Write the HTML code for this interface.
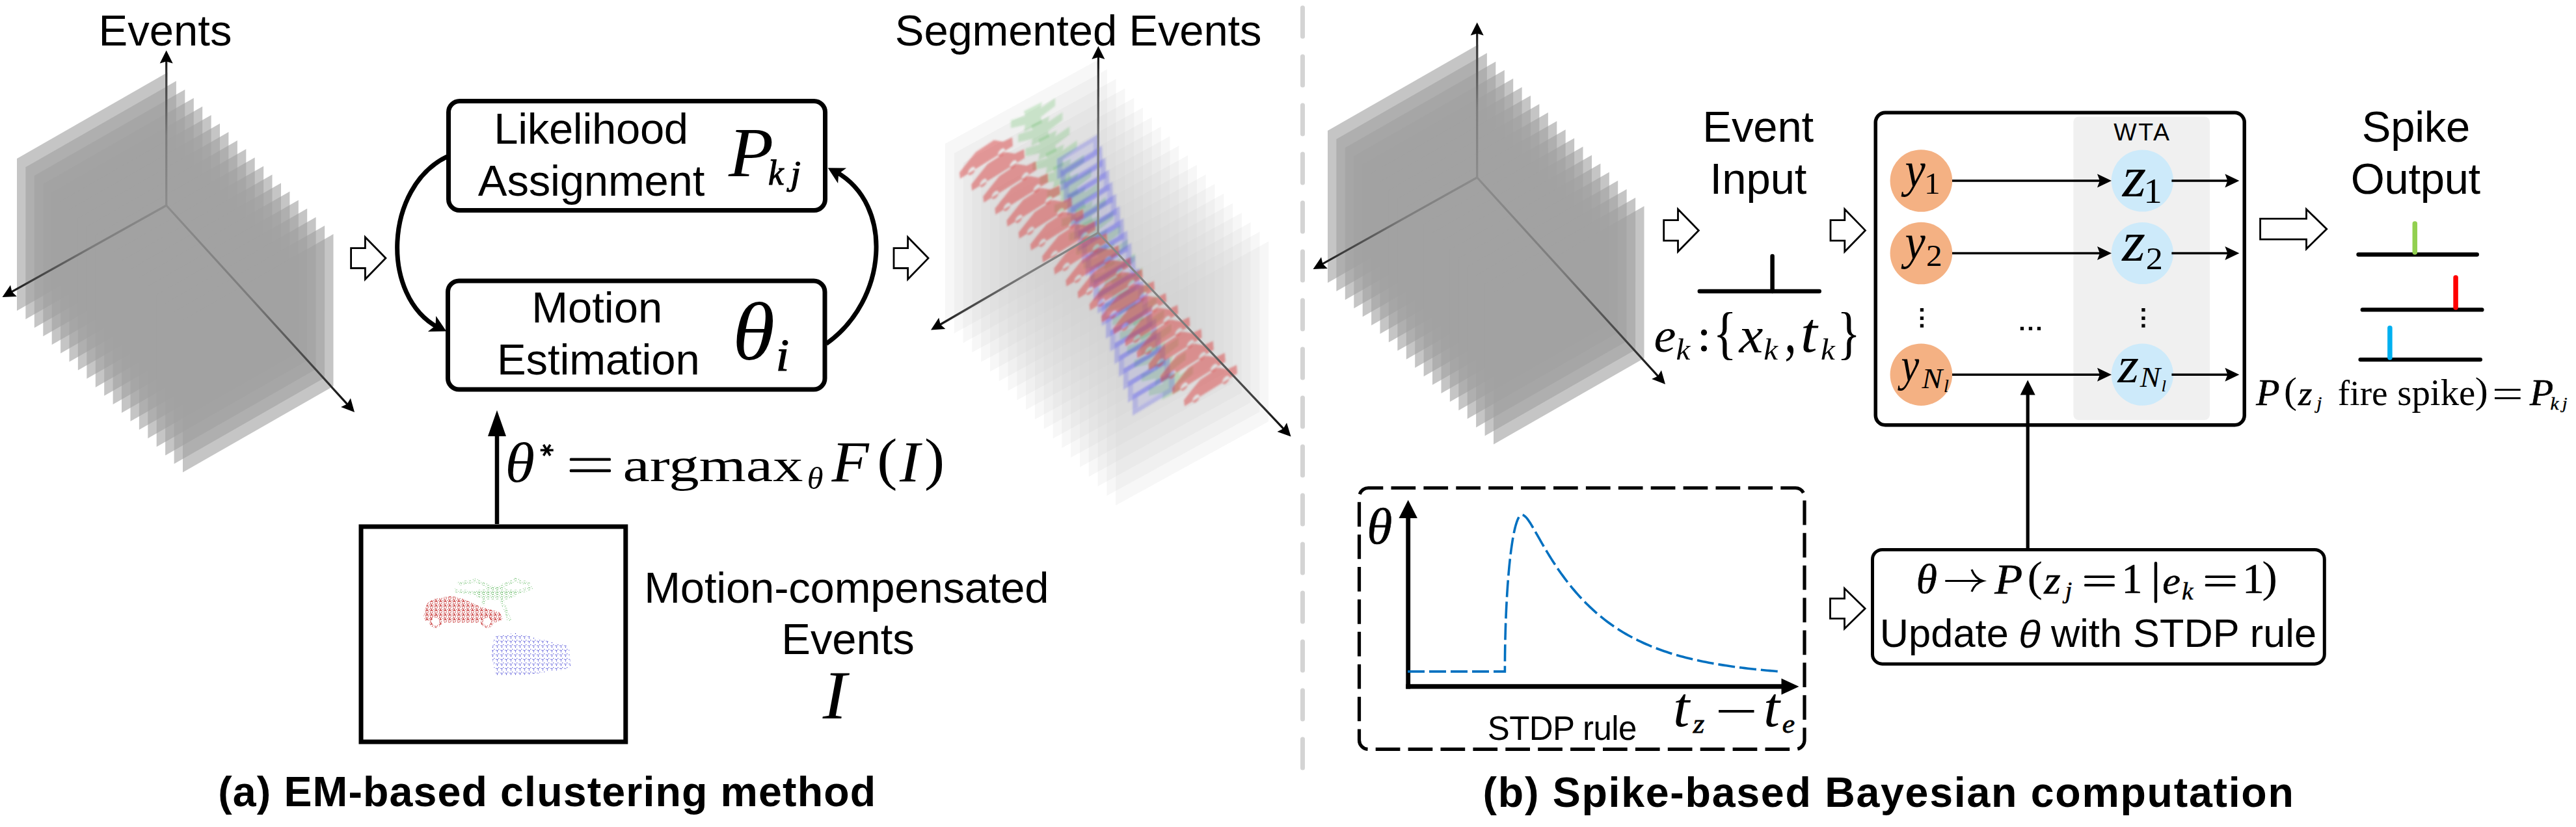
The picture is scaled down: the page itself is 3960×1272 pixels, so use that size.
<!DOCTYPE html><html><head><meta charset="utf-8"><style>html,body{margin:0;padding:0;background:#fff}svg{display:block}</style></head><body>
<svg width="3960" height="1272" viewBox="0 0 3960 1272">
<rect width="3960" height="1272" fill="#fff"/>
<defs>
<linearGradient id="ga0" gradientUnits="userSpaceOnUse" x1="255.7" y1="316.0" x2="255.7" y2="77.5"><stop offset="0" stop-color="#8c8c8c"/><stop offset="0.45" stop-color="#7c7c7c"/><stop offset="0.82" stop-color="#3c3c3c"/><stop offset="1" stop-color="#000"/></linearGradient>
<linearGradient id="ga1" gradientUnits="userSpaceOnUse" x1="255.7" y1="316.0" x2="3.5" y2="457.0"><stop offset="0" stop-color="#8c8c8c"/><stop offset="0.45" stop-color="#7c7c7c"/><stop offset="0.82" stop-color="#3c3c3c"/><stop offset="1" stop-color="#000"/></linearGradient>
<linearGradient id="ga2" gradientUnits="userSpaceOnUse" x1="255.7" y1="316.0" x2="545.0" y2="634.0"><stop offset="0" stop-color="#8c8c8c"/><stop offset="0.45" stop-color="#7c7c7c"/><stop offset="0.82" stop-color="#3c3c3c"/><stop offset="1" stop-color="#000"/></linearGradient>
</defs>
<polygon points="26.0,244.0 257.5,111.5 257.5,345.5 26.0,478.0" fill="#a2a2a2" fill-opacity="0.62"/>
<polygon points="39.4,257.1 270.9,124.6 270.9,358.6 39.4,491.1" fill="#a2a2a2" fill-opacity="0.62"/>
<polygon points="52.8,270.2 284.3,137.7 284.3,371.7 52.8,504.2" fill="#a2a2a2" fill-opacity="0.62"/>
<polygon points="66.3,283.2 297.8,150.7 297.8,384.7 66.3,517.2" fill="#a2a2a2" fill-opacity="0.62"/>
<polygon points="79.7,296.3 311.2,163.8 311.2,397.8 79.7,530.3" fill="#a2a2a2" fill-opacity="0.62"/>
<polygon points="93.1,309.4 324.6,176.9 324.6,410.9 93.1,543.4" fill="#a2a2a2" fill-opacity="0.62"/>
<polygon points="106.5,322.5 338.0,190.0 338.0,424.0 106.5,556.5" fill="#a2a2a2" fill-opacity="0.62"/>
<polygon points="119.9,335.6 351.4,203.1 351.4,437.1 119.9,569.6" fill="#a2a2a2" fill-opacity="0.62"/>
<polygon points="133.4,348.6 364.9,216.1 364.9,450.1 133.4,582.6" fill="#a2a2a2" fill-opacity="0.62"/>
<polygon points="146.8,361.7 378.3,229.2 378.3,463.2 146.8,595.7" fill="#a2a2a2" fill-opacity="0.62"/>
<polygon points="160.2,374.8 391.7,242.3 391.7,476.3 160.2,608.8" fill="#a2a2a2" fill-opacity="0.62"/>
<polygon points="173.6,387.9 405.1,255.4 405.1,489.4 173.6,621.9" fill="#a2a2a2" fill-opacity="0.62"/>
<polygon points="187.0,401.0 418.5,268.5 418.5,502.5 187.0,635.0" fill="#a2a2a2" fill-opacity="0.62"/>
<polygon points="200.5,414.0 432.0,281.5 432.0,515.5 200.5,648.0" fill="#a2a2a2" fill-opacity="0.62"/>
<polygon points="213.9,427.1 445.4,294.6 445.4,528.6 213.9,661.1" fill="#a2a2a2" fill-opacity="0.62"/>
<polygon points="227.3,440.2 458.8,307.7 458.8,541.7 227.3,674.2" fill="#a2a2a2" fill-opacity="0.62"/>
<polygon points="240.7,453.3 472.2,320.8 472.2,554.8 240.7,687.3" fill="#a2a2a2" fill-opacity="0.62"/>
<polygon points="254.1,466.4 485.6,333.9 485.6,567.9 254.1,700.4" fill="#a2a2a2" fill-opacity="0.62"/>
<polygon points="267.6,479.4 499.1,346.9 499.1,580.9 267.6,713.4" fill="#a2a2a2" fill-opacity="0.62"/>
<polygon points="281.0,492.5 512.5,360.0 512.5,594.0 281.0,726.5" fill="#a2a2a2" fill-opacity="0.62"/>
<line x1="255.7" y1="316.0" x2="255.7" y2="91.5" stroke="url(#ga0)" stroke-width="3.2"/>
<path d="M255.70 77.50L265.70 97.50L255.70 94.50L245.70 97.50Z" fill="#000"/>
<line x1="255.7" y1="316.0" x2="15.7" y2="450.2" stroke="url(#ga1)" stroke-width="3.2"/>
<path d="M3.50 457.00L16.08 438.51L18.34 448.70L25.84 455.97Z" fill="#000"/>
<line x1="255.7" y1="316.0" x2="535.6" y2="623.6" stroke="url(#ga2)" stroke-width="3.2"/>
<path d="M545.00 634.00L524.14 625.94L533.56 621.43L538.94 612.48Z" fill="#000"/>
<text x="151.50" y="70.00" font-family="Liberation Sans" font-size="67.00" textLength="204.92" lengthAdjust="spacing" fill="#000">Events</text>
<polygon points="539.60,381.70 561.40,381.70 561.40,364.66 592.94,397.10 561.40,429.54 561.40,412.50 539.60,412.50" fill="#fff" stroke="#000" stroke-width="2.80" stroke-linejoin="miter"/>
<polygon points="1374.00,381.70 1395.60,381.70 1395.60,364.66 1427.04,397.10 1395.60,429.54 1395.60,412.50 1374.00,412.50" fill="#fff" stroke="#000" stroke-width="2.80" stroke-linejoin="miter"/>
<rect x="689.5" y="155.5" width="579" height="168" rx="17" fill="#fff" stroke="#000" stroke-width="7"/>
<rect x="688.5" y="432" width="579.5" height="167" rx="17" fill="#fff" stroke="#000" stroke-width="7"/>
<text x="759.20" y="221.00" font-family="Liberation Sans" font-size="67.00" textLength="298.91" lengthAdjust="spacing" fill="#000">Likelihood</text>
<text x="734.87" y="301.00" font-family="Liberation Sans" font-size="67.00" textLength="348.42" lengthAdjust="spacing" fill="#000">Assignment</text>
<text x="817.20" y="496.20" font-family="Liberation Sans" font-size="67.00" textLength="201.05" lengthAdjust="spacing" fill="#000">Motion</text>
<text x="764.00" y="576.00" font-family="Liberation Sans" font-size="67.00" textLength="311.75" lengthAdjust="spacing" fill="#000">Estimation</text>
<text transform="translate(1119.98,270.50) scale(1.0600,1)" font-family="Liberation Serif" font-size="106.91" font-style="italic" fill="#000">P</text>
<text transform="translate(1181.07,284.40) scale(0.9489,1)" font-family="Liberation Serif" font-size="55.92" font-style="italic" fill="#000" stroke="#000" stroke-width="1.20">k</text>
<text transform="translate(1215.44,284.26) scale(1.0600,1)" font-family="Liberation Serif" font-size="52.34" font-style="italic" fill="#000" stroke="#000" stroke-width="1.20">j</text>
<text transform="translate(1125.92,553.00) scale(1.0368,1)" font-family="Liberation Serif" font-size="128.00" font-style="italic" fill="#000">θ</text>
<text transform="translate(1192.68,570.40) scale(1.0600,1)" font-family="Liberation Serif" font-size="69.17" font-style="italic" fill="#000" stroke="#000" stroke-width="1.20">i</text>
<path d="M687.30 240.90 C 590.91 287.52, 584.40 456.10, 673.67 503.85" fill="none" stroke="#000" stroke-width="7.00"/>
<path d="M686.20 509.50L657.79 509.95L669.56 500.85L670.24 485.99Z" fill="#000"/>
<path d="M1270.20 528.60 C 1364.02 462.76, 1375.37 314.91, 1285.05 264.24" fill="none" stroke="#000" stroke-width="7.00"/>
<path d="M1272.70 258.20L1301.11 258.39L1289.14 267.22L1288.13 282.06Z" fill="#000"/>
<line x1="764.00" y1="806.00" x2="764.00" y2="660.00" stroke="#000" stroke-width="6.50" />
<path d="M764.00 631.00L778.00 671.00L764.00 671.00L750.00 671.00Z" fill="#000"/>
<rect x="555" y="810" width="406.8" height="331" fill="#fff" stroke="#000" stroke-width="7"/>
<text transform="translate(776.39,741.00) scale(1.0600,1)" font-family="Liberation Serif" font-size="87.53" font-style="italic" fill="#000">θ</text>
<g stroke="#000" stroke-width="3.6" stroke-linecap="butt"><line x1="830.7" y1="692.4" x2="850.7" y2="692.4"/><line x1="835.5" y1="684" x2="845.9" y2="700.8"/><line x1="845.9" y1="684" x2="835.5" y2="700.8"/></g>
<rect x="875.8" y="704.4" width="63.2" height="4.4" rx="1.5" fill="#000"/><rect x="875.8" y="721.8" width="63.2" height="4.4" rx="1.5" fill="#000"/>
<text x="957.64" y="740.00" font-family="Liberation Serif" font-size="72.88" textLength="276.95" lengthAdjust="spacingAndGlyphs" fill="#000">argmax</text>
<text transform="translate(1240.86,752.00) scale(1.0600,1)" font-family="Liberation Serif" font-size="47.62" font-style="italic" fill="#000">θ</text>
<text transform="translate(1278.59,740.30) scale(1.0600,1)" font-family="Liberation Serif" font-size="88.43" font-style="italic" fill="#000">F</text>
<text transform="translate(1348.28,736.22) scale(1.0600,1)" font-family="Liberation Serif" font-size="88.23" fill="#000">(</text>
<text transform="translate(1382.95,740.30) scale(1.0600,1)" font-family="Liberation Serif" font-size="88.43" font-style="italic" fill="#000">I</text>
<text transform="translate(1421.08,736.22) scale(1.0600,1)" font-family="Liberation Serif" font-size="88.23" fill="#000">)</text>
<text x="990.20" y="927.00" font-family="Liberation Sans" font-size="67.00" textLength="622.41" lengthAdjust="spacing" fill="#000">Motion-compensated</text>
<text x="1201.30" y="1006.00" font-family="Liberation Sans" font-size="67.00" textLength="204.42" lengthAdjust="spacing" fill="#000">Events</text>
<text transform="translate(1264.71,1104.80) scale(1.0600,1)" font-family="Liberation Serif" font-size="104.77" font-style="italic" fill="#000">I</text>
<text x="1375.86" y="69.70" font-family="Liberation Sans" font-size="67.00" textLength="563.56" lengthAdjust="spacing" fill="#000">Segmented Events</text>
<line x1="2002.5" y1="12" x2="2002.5" y2="1187" stroke="#d4d4d4" stroke-width="7" stroke-linecap="round" stroke-dasharray="44 31"/>
<defs>
<linearGradient id="gb0" gradientUnits="userSpaceOnUse" x1="2270.7" y1="273.0" x2="2270.7" y2="34.5"><stop offset="0" stop-color="#8c8c8c"/><stop offset="0.45" stop-color="#7c7c7c"/><stop offset="0.82" stop-color="#3c3c3c"/><stop offset="1" stop-color="#000"/></linearGradient>
<linearGradient id="gb1" gradientUnits="userSpaceOnUse" x1="2270.7" y1="273.0" x2="2018.5" y2="414.0"><stop offset="0" stop-color="#8c8c8c"/><stop offset="0.45" stop-color="#7c7c7c"/><stop offset="0.82" stop-color="#3c3c3c"/><stop offset="1" stop-color="#000"/></linearGradient>
<linearGradient id="gb2" gradientUnits="userSpaceOnUse" x1="2270.7" y1="273.0" x2="2560.0" y2="591.0"><stop offset="0" stop-color="#8c8c8c"/><stop offset="0.45" stop-color="#7c7c7c"/><stop offset="0.82" stop-color="#3c3c3c"/><stop offset="1" stop-color="#000"/></linearGradient>
</defs>
<polygon points="2041.0,201.0 2272.5,68.5 2272.5,302.5 2041.0,435.0" fill="#a2a2a2" fill-opacity="0.62"/>
<polygon points="2054.4,214.1 2285.9,81.6 2285.9,315.6 2054.4,448.1" fill="#a2a2a2" fill-opacity="0.62"/>
<polygon points="2067.8,227.2 2299.3,94.7 2299.3,328.7 2067.8,461.2" fill="#a2a2a2" fill-opacity="0.62"/>
<polygon points="2081.3,240.2 2312.8,107.7 2312.8,341.7 2081.3,474.2" fill="#a2a2a2" fill-opacity="0.62"/>
<polygon points="2094.7,253.3 2326.2,120.8 2326.2,354.8 2094.7,487.3" fill="#a2a2a2" fill-opacity="0.62"/>
<polygon points="2108.1,266.4 2339.6,133.9 2339.6,367.9 2108.1,500.4" fill="#a2a2a2" fill-opacity="0.62"/>
<polygon points="2121.5,279.5 2353.0,147.0 2353.0,381.0 2121.5,513.5" fill="#a2a2a2" fill-opacity="0.62"/>
<polygon points="2134.9,292.6 2366.4,160.1 2366.4,394.1 2134.9,526.6" fill="#a2a2a2" fill-opacity="0.62"/>
<polygon points="2148.4,305.6 2379.9,173.1 2379.9,407.1 2148.4,539.6" fill="#a2a2a2" fill-opacity="0.62"/>
<polygon points="2161.8,318.7 2393.3,186.2 2393.3,420.2 2161.8,552.7" fill="#a2a2a2" fill-opacity="0.62"/>
<polygon points="2175.2,331.8 2406.7,199.3 2406.7,433.3 2175.2,565.8" fill="#a2a2a2" fill-opacity="0.62"/>
<polygon points="2188.6,344.9 2420.1,212.4 2420.1,446.4 2188.6,578.9" fill="#a2a2a2" fill-opacity="0.62"/>
<polygon points="2202.0,358.0 2433.5,225.5 2433.5,459.5 2202.0,592.0" fill="#a2a2a2" fill-opacity="0.62"/>
<polygon points="2215.5,371.0 2447.0,238.5 2447.0,472.5 2215.5,605.0" fill="#a2a2a2" fill-opacity="0.62"/>
<polygon points="2228.9,384.1 2460.4,251.6 2460.4,485.6 2228.9,618.1" fill="#a2a2a2" fill-opacity="0.62"/>
<polygon points="2242.3,397.2 2473.8,264.7 2473.8,498.7 2242.3,631.2" fill="#a2a2a2" fill-opacity="0.62"/>
<polygon points="2255.7,410.3 2487.2,277.8 2487.2,511.8 2255.7,644.3" fill="#a2a2a2" fill-opacity="0.62"/>
<polygon points="2269.1,423.4 2500.6,290.9 2500.6,524.9 2269.1,657.4" fill="#a2a2a2" fill-opacity="0.62"/>
<polygon points="2282.6,436.4 2514.1,303.9 2514.1,537.9 2282.6,670.4" fill="#a2a2a2" fill-opacity="0.62"/>
<polygon points="2296.0,449.5 2527.5,317.0 2527.5,551.0 2296.0,683.5" fill="#a2a2a2" fill-opacity="0.62"/>
<line x1="2270.7" y1="273.0" x2="2270.7" y2="48.5" stroke="url(#gb0)" stroke-width="3.2"/>
<path d="M2270.70 34.50L2280.70 54.50L2270.70 51.50L2260.70 54.50Z" fill="#000"/>
<line x1="2270.7" y1="273.0" x2="2030.7" y2="407.2" stroke="url(#gb1)" stroke-width="3.2"/>
<path d="M2018.50 414.00L2031.08 395.51L2033.34 405.70L2040.84 412.97Z" fill="#000"/>
<line x1="2270.7" y1="273.0" x2="2550.6" y2="580.6" stroke="url(#gb2)" stroke-width="3.2"/>
<path d="M2560.00 591.00L2539.14 582.94L2548.56 578.43L2553.94 569.48Z" fill="#000"/>
<defs><pattern id="pr" width="7" height="7" patternUnits="userSpaceOnUse"><circle cx="4.4" cy="5.2" r="0.75" fill="#c83c3c"/><circle cx="5.6" cy="6.6" r="0.75" fill="#c83c3c"/><circle cx="5.2" cy="6.5" r="0.75" fill="#c83c3c"/><circle cx="0.2" cy="3.3" r="0.75" fill="#c83c3c"/><circle cx="6.6" cy="4.5" r="0.75" fill="#c83c3c"/><circle cx="6.3" cy="0.8" r="0.75" fill="#c83c3c"/><circle cx="3.3" cy="1.7" r="0.75" fill="#c83c3c"/><circle cx="3.8" cy="4.0" r="0.75" fill="#c83c3c"/><circle cx="0.1" cy="1.5" r="0.75" fill="#c83c3c"/><circle cx="2.0" cy="6.4" r="0.75" fill="#c83c3c"/><circle cx="5.4" cy="1.1" r="0.75" fill="#c83c3c"/><circle cx="5.6" cy="1.0" r="0.75" fill="#c83c3c"/><circle cx="4.3" cy="0.9" r="0.75" fill="#c83c3c"/></pattern><pattern id="pb" width="7" height="7" patternUnits="userSpaceOnUse"><circle cx="0.0" cy="6.1" r="0.65" fill="#3030d0"/><circle cx="1.5" cy="1.5" r="0.65" fill="#3030d0"/><circle cx="6.9" cy="6.1" r="0.65" fill="#3030d0"/><circle cx="2.0" cy="6.7" r="0.65" fill="#3030d0"/><circle cx="3.8" cy="4.7" r="0.65" fill="#3030d0"/><circle cx="1.4" cy="6.6" r="0.65" fill="#3030d0"/></pattern><pattern id="pg" width="7" height="7" patternUnits="userSpaceOnUse"><circle cx="4.8" cy="6.8" r="0.65" fill="#50b050"/><circle cx="6.3" cy="2.1" r="0.65" fill="#50b050"/><circle cx="2.5" cy="1.2" r="0.65" fill="#50b050"/><circle cx="1.0" cy="0.5" r="0.65" fill="#50b050"/><circle cx="2.1" cy="4.2" r="0.65" fill="#50b050"/><circle cx="0.0" cy="4.7" r="0.65" fill="#50b050"/></pattern></defs>
<g fill="none" stroke="url(#pg)" stroke-width="6">
<polyline points="703.1,898.3 731.4,892.8 761.8,905.9 792.3,891.8 814.1,898.3"/>
<polyline points="698.7,908.1 722.7,911.3 761.8,913.5 801.0,909.2 818.4,903.7"/>
<polyline points="744.4,920.0 742.3,930.9"/>
<polyline points="770.5,920.0 783.6,955.9"/>
</g>
<ellipse cx="761.8" cy="913.5" rx="32.6" ry="9.8" fill="url(#pg)"/>
<path d="M650.9,944.0 L657.4,926.6 L668.3,921.1 L694.4,916.8 L711.8,921.1 L737.9,933.1 L768.4,941.8 L772.7,952.7 L761.8,958.1 L757.5,954.9 L748.8,948.3 L737.9,952.7 L735.7,958.1 L683.5,958.1 L679.2,950.5 L668.3,948.3 L659.6,954.9 L653.1,954.9 Z" fill="url(#pr)"/>
<circle cx="669.4" cy="955.9" r="8" fill="none" stroke="url(#pr)" stroke-width="4"/>
<circle cx="748.8" cy="955.9" r="8" fill="none" stroke="url(#pr)" stroke-width="4"/>
<path d="M759.7,978.8 L792.3,973.4 L875.0,994.0 L877.2,1026.7 L864.1,1029.9 L814.1,1037.5 L761.8,1039.7 L755.3,1004.9 Z" fill="url(#pb)"/>
<defs>
<linearGradient id="gs0" gradientUnits="userSpaceOnUse" x1="1688.0" y1="358.0" x2="1688.4" y2="71.0"><stop offset="0" stop-color="#8a8a8a"/><stop offset="0.45" stop-color="#7c7c7c"/><stop offset="0.82" stop-color="#3c3c3c"/><stop offset="1" stop-color="#000"/></linearGradient>
<linearGradient id="gs1" gradientUnits="userSpaceOnUse" x1="1688.0" y1="358.0" x2="1431.0" y2="507.5"><stop offset="0" stop-color="#8a8a8a"/><stop offset="0.45" stop-color="#7c7c7c"/><stop offset="0.82" stop-color="#3c3c3c"/><stop offset="1" stop-color="#000"/></linearGradient>
<linearGradient id="gs2" gradientUnits="userSpaceOnUse" x1="1688.0" y1="358.0" x2="1984.5" y2="671.6"><stop offset="0" stop-color="#8a8a8a"/><stop offset="0.45" stop-color="#7c7c7c"/><stop offset="0.82" stop-color="#3c3c3c"/><stop offset="1" stop-color="#000"/></linearGradient>
</defs>
<polygon points="1453.0,221.0 1688.0,92.0 1688.0,369.0 1453.0,498.0" fill="#d2d2d2" fill-opacity="0.17"/>
<polygon points="1466.8,235.7 1701.8,106.7 1701.8,383.7 1466.8,512.7" fill="#d2d2d2" fill-opacity="0.17"/>
<polygon points="1480.6,250.4 1715.6,121.4 1715.6,398.4 1480.6,527.4" fill="#d2d2d2" fill-opacity="0.17"/>
<polygon points="1494.4,265.1 1729.4,136.1 1729.4,413.1 1494.4,542.1" fill="#d2d2d2" fill-opacity="0.17"/>
<polygon points="1508.2,279.8 1743.2,150.8 1743.2,427.8 1508.2,556.8" fill="#d2d2d2" fill-opacity="0.17"/>
<polygon points="1522.0,294.5 1757.0,165.5 1757.0,442.5 1522.0,571.5" fill="#d2d2d2" fill-opacity="0.17"/>
<polygon points="1535.8,309.2 1770.8,180.2 1770.8,457.2 1535.8,586.2" fill="#d2d2d2" fill-opacity="0.17"/>
<polygon points="1549.6,323.9 1784.6,194.9 1784.6,471.9 1549.6,600.9" fill="#d2d2d2" fill-opacity="0.17"/>
<polygon points="1563.4,338.6 1798.4,209.6 1798.4,486.6 1563.4,615.6" fill="#d2d2d2" fill-opacity="0.17"/>
<polygon points="1577.2,353.3 1812.2,224.3 1812.2,501.3 1577.2,630.3" fill="#d2d2d2" fill-opacity="0.17"/>
<polygon points="1591.0,368.0 1826.0,239.0 1826.0,516.0 1591.0,645.0" fill="#d2d2d2" fill-opacity="0.17"/>
<polygon points="1604.8,382.7 1839.8,253.7 1839.8,530.7 1604.8,659.7" fill="#d2d2d2" fill-opacity="0.17"/>
<polygon points="1618.6,397.4 1853.6,268.4 1853.6,545.4 1618.6,674.4" fill="#d2d2d2" fill-opacity="0.17"/>
<polygon points="1632.4,412.1 1867.4,283.1 1867.4,560.1 1632.4,689.1" fill="#d2d2d2" fill-opacity="0.17"/>
<polygon points="1646.2,426.8 1881.2,297.8 1881.2,574.8 1646.2,703.8" fill="#d2d2d2" fill-opacity="0.17"/>
<polygon points="1660.0,441.5 1895.0,312.5 1895.0,589.5 1660.0,718.5" fill="#d2d2d2" fill-opacity="0.17"/>
<polygon points="1673.8,456.2 1908.8,327.2 1908.8,604.2 1673.8,733.2" fill="#d2d2d2" fill-opacity="0.17"/>
<polygon points="1687.6,470.9 1922.6,341.9 1922.6,618.9 1687.6,747.9" fill="#d2d2d2" fill-opacity="0.17"/>
<polygon points="1701.4,485.6 1936.4,356.6 1936.4,633.6 1701.4,762.6" fill="#d2d2d2" fill-opacity="0.17"/>
<polygon points="1715.2,500.3 1950.2,371.3 1950.2,648.3 1715.2,777.3" fill="#d2d2d2" fill-opacity="0.17"/>
<filter id="bl" x="-5%" y="-5%" width="110%" height="110%"><feGaussianBlur stdDeviation="1.6"/></filter><g filter="url(#bl)">
<path d="M-34,-12 L-12,-8 L-14,-16 L14,-16 L12,-8 L34,-12 L34,0 L12,6 L14,16 L-14,16 L-12,6 L-34,0 Z" fill-rule="evenodd" transform="translate(1588.0,180.0) matrix(1.00,-0.500,0,1.00,0,0)" fill="#40b040" fill-opacity="0.22"/>
<path d="M-34,-12 L-12,-8 L-14,-16 L14,-16 L12,-8 L34,-12 L34,0 L12,6 L14,16 L-14,16 L-12,6 L-34,0 Z" fill-rule="evenodd" transform="translate(1599.2,201.7) matrix(1.00,-0.500,0,1.00,0,0)" fill="#40b040" fill-opacity="0.22"/>
<path d="M-34,-12 L-12,-8 L-14,-16 L14,-16 L12,-8 L34,-12 L34,0 L12,6 L14,16 L-14,16 L-12,6 L-34,0 Z" fill-rule="evenodd" transform="translate(1610.3,223.4) matrix(1.00,-0.500,0,1.00,0,0)" fill="#40b040" fill-opacity="0.22"/>
<path d="M-34,-12 L-12,-8 L-14,-16 L14,-16 L12,-8 L34,-12 L34,0 L12,6 L14,16 L-14,16 L-12,6 L-34,0 Z" fill-rule="evenodd" transform="translate(1621.5,245.1) matrix(1.00,-0.500,0,1.00,0,0)" fill="#40b040" fill-opacity="0.22"/>
<path d="M-34,-12 L-12,-8 L-14,-16 L14,-16 L12,-8 L34,-12 L34,0 L12,6 L14,16 L-14,16 L-12,6 L-34,0 Z" fill-rule="evenodd" transform="translate(1632.6,266.7) matrix(1.00,-0.500,0,1.00,0,0)" fill="#40b040" fill-opacity="0.22"/>
<path d="M-34,-12 L-12,-8 L-14,-16 L14,-16 L12,-8 L34,-12 L34,0 L12,6 L14,16 L-14,16 L-12,6 L-34,0 Z" fill-rule="evenodd" transform="translate(1643.8,288.4) matrix(1.00,-0.500,0,1.00,0,0)" fill="#40b040" fill-opacity="0.22"/>
<path d="M-34,-12 L-12,-8 L-14,-16 L14,-16 L12,-8 L34,-12 L34,0 L12,6 L14,16 L-14,16 L-12,6 L-34,0 Z" fill-rule="evenodd" transform="translate(1654.9,310.1) matrix(1.00,-0.500,0,1.00,0,0)" fill="#40b040" fill-opacity="0.22"/>
<path d="M-34,-12 L-12,-8 L-14,-16 L14,-16 L12,-8 L34,-12 L34,0 L12,6 L14,16 L-14,16 L-12,6 L-34,0 Z" fill-rule="evenodd" transform="translate(1666.1,331.8) matrix(1.00,-0.500,0,1.00,0,0)" fill="#40b040" fill-opacity="0.22"/>
<path d="M-34,-12 L-12,-8 L-14,-16 L14,-16 L12,-8 L34,-12 L34,0 L12,6 L14,16 L-14,16 L-12,6 L-34,0 Z" fill-rule="evenodd" transform="translate(1677.3,353.5) matrix(1.00,-0.500,0,1.00,0,0)" fill="#40b040" fill-opacity="0.22"/>
<path d="M-34,-12 L-12,-8 L-14,-16 L14,-16 L12,-8 L34,-12 L34,0 L12,6 L14,16 L-14,16 L-12,6 L-34,0 Z" fill-rule="evenodd" transform="translate(1688.4,375.2) matrix(1.00,-0.500,0,1.00,0,0)" fill="#40b040" fill-opacity="0.22"/>
<path d="M-34,-12 L-12,-8 L-14,-16 L14,-16 L12,-8 L34,-12 L34,0 L12,6 L14,16 L-14,16 L-12,6 L-34,0 Z" fill-rule="evenodd" transform="translate(1699.6,396.8) matrix(1.00,-0.500,0,1.00,0,0)" fill="#40b040" fill-opacity="0.22"/>
<path d="M-34,-12 L-12,-8 L-14,-16 L14,-16 L12,-8 L34,-12 L34,0 L12,6 L14,16 L-14,16 L-12,6 L-34,0 Z" fill-rule="evenodd" transform="translate(1710.7,418.5) matrix(1.00,-0.500,0,1.00,0,0)" fill="#40b040" fill-opacity="0.22"/>
<path d="M-34,-12 L-12,-8 L-14,-16 L14,-16 L12,-8 L34,-12 L34,0 L12,6 L14,16 L-14,16 L-12,6 L-34,0 Z" fill-rule="evenodd" transform="translate(1721.9,440.2) matrix(1.00,-0.500,0,1.00,0,0)" fill="#40b040" fill-opacity="0.22"/>
<path d="M-34,-12 L-12,-8 L-14,-16 L14,-16 L12,-8 L34,-12 L34,0 L12,6 L14,16 L-14,16 L-12,6 L-34,0 Z" fill-rule="evenodd" transform="translate(1733.1,461.9) matrix(1.00,-0.500,0,1.00,0,0)" fill="#40b040" fill-opacity="0.22"/>
<path d="M-34,-12 L-12,-8 L-14,-16 L14,-16 L12,-8 L34,-12 L34,0 L12,6 L14,16 L-14,16 L-12,6 L-34,0 Z" fill-rule="evenodd" transform="translate(1744.2,483.6) matrix(1.00,-0.500,0,1.00,0,0)" fill="#40b040" fill-opacity="0.22"/>
<path d="M-34,-12 L-12,-8 L-14,-16 L14,-16 L12,-8 L34,-12 L34,0 L12,6 L14,16 L-14,16 L-12,6 L-34,0 Z" fill-rule="evenodd" transform="translate(1755.4,505.3) matrix(1.00,-0.500,0,1.00,0,0)" fill="#40b040" fill-opacity="0.22"/>
<path d="M-34,-12 L-12,-8 L-14,-16 L14,-16 L12,-8 L34,-12 L34,0 L12,6 L14,16 L-14,16 L-12,6 L-34,0 Z" fill-rule="evenodd" transform="translate(1766.5,526.9) matrix(1.00,-0.500,0,1.00,0,0)" fill="#40b040" fill-opacity="0.22"/>
<path d="M-34,-12 L-12,-8 L-14,-16 L14,-16 L12,-8 L34,-12 L34,0 L12,6 L14,16 L-14,16 L-12,6 L-34,0 Z" fill-rule="evenodd" transform="translate(1777.7,548.6) matrix(1.00,-0.500,0,1.00,0,0)" fill="#40b040" fill-opacity="0.22"/>
<path d="M-34,-12 L-12,-8 L-14,-16 L14,-16 L12,-8 L34,-12 L34,0 L12,6 L14,16 L-14,16 L-12,6 L-34,0 Z" fill-rule="evenodd" transform="translate(1788.8,570.3) matrix(1.00,-0.500,0,1.00,0,0)" fill="#40b040" fill-opacity="0.22"/>
<path d="M-34,-12 L-12,-8 L-14,-16 L14,-16 L12,-8 L34,-12 L34,0 L12,6 L14,16 L-14,16 L-12,6 L-34,0 Z" fill-rule="evenodd" transform="translate(1800.0,592.0) matrix(1.00,-0.500,0,1.00,0,0)" fill="#40b040" fill-opacity="0.22"/>
<path d="M-32,-17 L32,-17 L33,15 L-32,15 Z M-24,-9 L24,-9 L24,7 L-24,7 Z" fill-rule="evenodd" transform="translate(1657.0,242.0) matrix(1.00,-0.600,0,1.00,0,0)" fill="#3c3cf0" fill-opacity="0.17"/>
<path d="M-32,-17 L32,-17 L33,15 L-32,15 Z M-24,-9 L24,-9 L24,7 L-24,7 Z" fill-rule="evenodd" transform="translate(1662.1,260.3) matrix(1.00,-0.600,0,1.00,0,0)" fill="#3c3cf0" fill-opacity="0.17"/>
<path d="M-32,-17 L32,-17 L33,15 L-32,15 Z M-24,-9 L24,-9 L24,7 L-24,7 Z" fill-rule="evenodd" transform="translate(1667.3,278.6) matrix(1.00,-0.600,0,1.00,0,0)" fill="#3c3cf0" fill-opacity="0.17"/>
<path d="M-32,-17 L32,-17 L33,15 L-32,15 Z M-24,-9 L24,-9 L24,7 L-24,7 Z" fill-rule="evenodd" transform="translate(1672.7,297.1) matrix(1.00,-0.600,0,1.00,0,0)" fill="#3c3cf0" fill-opacity="0.17"/>
<path d="M-32,-17 L32,-17 L33,15 L-32,15 Z M-24,-9 L24,-9 L24,7 L-24,7 Z" fill-rule="evenodd" transform="translate(1678.1,315.6) matrix(1.00,-0.600,0,1.00,0,0)" fill="#3c3cf0" fill-opacity="0.17"/>
<path d="M-32,-17 L32,-17 L33,15 L-32,15 Z M-24,-9 L24,-9 L24,7 L-24,7 Z" fill-rule="evenodd" transform="translate(1683.6,334.2) matrix(1.00,-0.600,0,1.00,0,0)" fill="#3c3cf0" fill-opacity="0.17"/>
<path d="M-32,-17 L32,-17 L33,15 L-32,15 Z M-24,-9 L24,-9 L24,7 L-24,7 Z" fill-rule="evenodd" transform="translate(1689.3,353.0) matrix(1.00,-0.600,0,1.00,0,0)" fill="#3c3cf0" fill-opacity="0.17"/>
<path d="M-32,-17 L32,-17 L33,15 L-32,15 Z M-24,-9 L24,-9 L24,7 L-24,7 Z" fill-rule="evenodd" transform="translate(1695.1,371.8) matrix(1.00,-0.600,0,1.00,0,0)" fill="#3c3cf0" fill-opacity="0.17"/>
<path d="M-32,-17 L32,-17 L33,15 L-32,15 Z M-24,-9 L24,-9 L24,7 L-24,7 Z" fill-rule="evenodd" transform="translate(1701.0,390.7) matrix(1.00,-0.600,0,1.00,0,0)" fill="#3c3cf0" fill-opacity="0.17"/>
<path d="M-32,-17 L32,-17 L33,15 L-32,15 Z M-24,-9 L24,-9 L24,7 L-24,7 Z" fill-rule="evenodd" transform="translate(1707.0,409.7) matrix(1.00,-0.600,0,1.00,0,0)" fill="#3c3cf0" fill-opacity="0.17"/>
<path d="M-32,-17 L32,-17 L33,15 L-32,15 Z M-24,-9 L24,-9 L24,7 L-24,7 Z" fill-rule="evenodd" transform="translate(1713.1,428.8) matrix(1.00,-0.600,0,1.00,0,0)" fill="#3c3cf0" fill-opacity="0.17"/>
<path d="M-32,-17 L32,-17 L33,15 L-32,15 Z M-24,-9 L24,-9 L24,7 L-24,7 Z" fill-rule="evenodd" transform="translate(1719.3,448.0) matrix(1.00,-0.600,0,1.00,0,0)" fill="#3c3cf0" fill-opacity="0.17"/>
<path d="M-32,-17 L32,-17 L33,15 L-32,15 Z M-24,-9 L24,-9 L24,7 L-24,7 Z" fill-rule="evenodd" transform="translate(1725.6,467.3) matrix(1.00,-0.600,0,1.00,0,0)" fill="#3c3cf0" fill-opacity="0.17"/>
<path d="M-32,-17 L32,-17 L33,15 L-32,15 Z M-24,-9 L24,-9 L24,7 L-24,7 Z" fill-rule="evenodd" transform="translate(1732.0,486.7) matrix(1.00,-0.600,0,1.00,0,0)" fill="#3c3cf0" fill-opacity="0.17"/>
<path d="M-32,-17 L32,-17 L33,15 L-32,15 Z M-24,-9 L24,-9 L24,7 L-24,7 Z" fill-rule="evenodd" transform="translate(1738.6,506.2) matrix(1.00,-0.600,0,1.00,0,0)" fill="#3c3cf0" fill-opacity="0.17"/>
<path d="M-32,-17 L32,-17 L33,15 L-32,15 Z M-24,-9 L24,-9 L24,7 L-24,7 Z" fill-rule="evenodd" transform="translate(1745.3,525.8) matrix(1.00,-0.600,0,1.00,0,0)" fill="#3c3cf0" fill-opacity="0.17"/>
<path d="M-32,-17 L32,-17 L33,15 L-32,15 Z M-24,-9 L24,-9 L24,7 L-24,7 Z" fill-rule="evenodd" transform="translate(1752.0,545.4) matrix(1.00,-0.600,0,1.00,0,0)" fill="#3c3cf0" fill-opacity="0.17"/>
<path d="M-32,-17 L32,-17 L33,15 L-32,15 Z M-24,-9 L24,-9 L24,7 L-24,7 Z" fill-rule="evenodd" transform="translate(1758.9,565.2) matrix(1.00,-0.600,0,1.00,0,0)" fill="#3c3cf0" fill-opacity="0.17"/>
<path d="M-32,-17 L32,-17 L33,15 L-32,15 Z M-24,-9 L24,-9 L24,7 L-24,7 Z" fill-rule="evenodd" transform="translate(1765.9,585.0) matrix(1.00,-0.600,0,1.00,0,0)" fill="#3c3cf0" fill-opacity="0.17"/>
<path d="M-32,-17 L32,-17 L33,15 L-32,15 Z M-24,-9 L24,-9 L24,7 L-24,7 Z" fill-rule="evenodd" transform="translate(1773.0,605.0) matrix(1.00,-0.600,0,1.00,0,0)" fill="#3c3cf0" fill-opacity="0.17"/>
<path d="M-32,-17 L32,-17 L33,15 L-32,15 Z" fill-rule="evenodd" transform="translate(1657.0,242.0) matrix(1.00,-0.600,0,1.00,0,0)" fill="#5050f0" fill-opacity="0.11"/>
<path d="M-32,-17 L32,-17 L33,15 L-32,15 Z" fill-rule="evenodd" transform="translate(1662.1,260.3) matrix(1.00,-0.600,0,1.00,0,0)" fill="#5050f0" fill-opacity="0.11"/>
<path d="M-32,-17 L32,-17 L33,15 L-32,15 Z" fill-rule="evenodd" transform="translate(1667.3,278.6) matrix(1.00,-0.600,0,1.00,0,0)" fill="#5050f0" fill-opacity="0.11"/>
<path d="M-32,-17 L32,-17 L33,15 L-32,15 Z" fill-rule="evenodd" transform="translate(1672.7,297.1) matrix(1.00,-0.600,0,1.00,0,0)" fill="#5050f0" fill-opacity="0.11"/>
<path d="M-32,-17 L32,-17 L33,15 L-32,15 Z" fill-rule="evenodd" transform="translate(1678.1,315.6) matrix(1.00,-0.600,0,1.00,0,0)" fill="#5050f0" fill-opacity="0.11"/>
<path d="M-32,-17 L32,-17 L33,15 L-32,15 Z" fill-rule="evenodd" transform="translate(1683.6,334.2) matrix(1.00,-0.600,0,1.00,0,0)" fill="#5050f0" fill-opacity="0.11"/>
<path d="M-32,-17 L32,-17 L33,15 L-32,15 Z" fill-rule="evenodd" transform="translate(1689.3,353.0) matrix(1.00,-0.600,0,1.00,0,0)" fill="#5050f0" fill-opacity="0.11"/>
<path d="M-32,-17 L32,-17 L33,15 L-32,15 Z" fill-rule="evenodd" transform="translate(1695.1,371.8) matrix(1.00,-0.600,0,1.00,0,0)" fill="#5050f0" fill-opacity="0.11"/>
<path d="M-32,-17 L32,-17 L33,15 L-32,15 Z" fill-rule="evenodd" transform="translate(1701.0,390.7) matrix(1.00,-0.600,0,1.00,0,0)" fill="#5050f0" fill-opacity="0.11"/>
<path d="M-32,-17 L32,-17 L33,15 L-32,15 Z" fill-rule="evenodd" transform="translate(1707.0,409.7) matrix(1.00,-0.600,0,1.00,0,0)" fill="#5050f0" fill-opacity="0.11"/>
<path d="M-32,-17 L32,-17 L33,15 L-32,15 Z" fill-rule="evenodd" transform="translate(1713.1,428.8) matrix(1.00,-0.600,0,1.00,0,0)" fill="#5050f0" fill-opacity="0.11"/>
<path d="M-32,-17 L32,-17 L33,15 L-32,15 Z" fill-rule="evenodd" transform="translate(1719.3,448.0) matrix(1.00,-0.600,0,1.00,0,0)" fill="#5050f0" fill-opacity="0.11"/>
<path d="M-32,-17 L32,-17 L33,15 L-32,15 Z" fill-rule="evenodd" transform="translate(1725.6,467.3) matrix(1.00,-0.600,0,1.00,0,0)" fill="#5050f0" fill-opacity="0.11"/>
<path d="M-32,-17 L32,-17 L33,15 L-32,15 Z" fill-rule="evenodd" transform="translate(1732.0,486.7) matrix(1.00,-0.600,0,1.00,0,0)" fill="#5050f0" fill-opacity="0.11"/>
<path d="M-32,-17 L32,-17 L33,15 L-32,15 Z" fill-rule="evenodd" transform="translate(1738.6,506.2) matrix(1.00,-0.600,0,1.00,0,0)" fill="#5050f0" fill-opacity="0.11"/>
<path d="M-32,-17 L32,-17 L33,15 L-32,15 Z" fill-rule="evenodd" transform="translate(1745.3,525.8) matrix(1.00,-0.600,0,1.00,0,0)" fill="#5050f0" fill-opacity="0.11"/>
<path d="M-32,-17 L32,-17 L33,15 L-32,15 Z" fill-rule="evenodd" transform="translate(1752.0,545.4) matrix(1.00,-0.600,0,1.00,0,0)" fill="#5050f0" fill-opacity="0.11"/>
<path d="M-32,-17 L32,-17 L33,15 L-32,15 Z" fill-rule="evenodd" transform="translate(1758.9,565.2) matrix(1.00,-0.600,0,1.00,0,0)" fill="#5050f0" fill-opacity="0.11"/>
<path d="M-32,-17 L32,-17 L33,15 L-32,15 Z" fill-rule="evenodd" transform="translate(1765.9,585.0) matrix(1.00,-0.600,0,1.00,0,0)" fill="#5050f0" fill-opacity="0.11"/>
<path d="M-32,-17 L32,-17 L33,15 L-32,15 Z" fill-rule="evenodd" transform="translate(1773.0,605.0) matrix(1.00,-0.600,0,1.00,0,0)" fill="#5050f0" fill-opacity="0.11"/>
<path d="M-40,10 L-41,0 L-32,-6 L-16,-16 L12,-17 L26,-6 L40,-4 L41,10 Z M-17,9 a5.5,5.5 0 1,0 -11,0 a5.5,5.5 0 1,0 11,0 Z M29,9 a5.5,5.5 0 1,0 -11,0 a5.5,5.5 0 1,0 11,0 Z" fill-rule="evenodd" transform="translate(1516.0,240.0) matrix(1.00,-0.620,0,1.00,0,0)" fill="#d84848" fill-opacity="0.52"/>
<path d="M-40,10 L-41,0 L-32,-6 L-16,-16 L12,-17 L26,-6 L40,-4 L41,10 Z M-17,9 a5.5,5.5 0 1,0 -11,0 a5.5,5.5 0 1,0 11,0 Z M29,9 a5.5,5.5 0 1,0 -11,0 a5.5,5.5 0 1,0 11,0 Z" fill-rule="evenodd" transform="translate(1534.2,258.4) matrix(1.00,-0.620,0,1.00,0,0)" fill="#d84848" fill-opacity="0.52"/>
<path d="M-40,10 L-41,0 L-32,-6 L-16,-16 L12,-17 L26,-6 L40,-4 L41,10 Z M-17,9 a5.5,5.5 0 1,0 -11,0 a5.5,5.5 0 1,0 11,0 Z M29,9 a5.5,5.5 0 1,0 -11,0 a5.5,5.5 0 1,0 11,0 Z" fill-rule="evenodd" transform="translate(1552.3,276.8) matrix(1.00,-0.620,0,1.00,0,0)" fill="#d84848" fill-opacity="0.52"/>
<path d="M-40,10 L-41,0 L-32,-6 L-16,-16 L12,-17 L26,-6 L40,-4 L41,10 Z M-17,9 a5.5,5.5 0 1,0 -11,0 a5.5,5.5 0 1,0 11,0 Z M29,9 a5.5,5.5 0 1,0 -11,0 a5.5,5.5 0 1,0 11,0 Z" fill-rule="evenodd" transform="translate(1570.5,295.3) matrix(1.00,-0.620,0,1.00,0,0)" fill="#d84848" fill-opacity="0.52"/>
<path d="M-40,10 L-41,0 L-32,-6 L-16,-16 L12,-17 L26,-6 L40,-4 L41,10 Z M-17,9 a5.5,5.5 0 1,0 -11,0 a5.5,5.5 0 1,0 11,0 Z M29,9 a5.5,5.5 0 1,0 -11,0 a5.5,5.5 0 1,0 11,0 Z" fill-rule="evenodd" transform="translate(1588.6,313.7) matrix(1.00,-0.620,0,1.00,0,0)" fill="#d84848" fill-opacity="0.52"/>
<path d="M-40,10 L-41,0 L-32,-6 L-16,-16 L12,-17 L26,-6 L40,-4 L41,10 Z M-17,9 a5.5,5.5 0 1,0 -11,0 a5.5,5.5 0 1,0 11,0 Z M29,9 a5.5,5.5 0 1,0 -11,0 a5.5,5.5 0 1,0 11,0 Z" fill-rule="evenodd" transform="translate(1606.8,332.1) matrix(1.00,-0.620,0,1.00,0,0)" fill="#d84848" fill-opacity="0.52"/>
<path d="M-40,10 L-41,0 L-32,-6 L-16,-16 L12,-17 L26,-6 L40,-4 L41,10 Z M-17,9 a5.5,5.5 0 1,0 -11,0 a5.5,5.5 0 1,0 11,0 Z M29,9 a5.5,5.5 0 1,0 -11,0 a5.5,5.5 0 1,0 11,0 Z" fill-rule="evenodd" transform="translate(1624.9,350.5) matrix(1.00,-0.620,0,1.00,0,0)" fill="#d84848" fill-opacity="0.52"/>
<path d="M-40,10 L-41,0 L-32,-6 L-16,-16 L12,-17 L26,-6 L40,-4 L41,10 Z M-17,9 a5.5,5.5 0 1,0 -11,0 a5.5,5.5 0 1,0 11,0 Z M29,9 a5.5,5.5 0 1,0 -11,0 a5.5,5.5 0 1,0 11,0 Z" fill-rule="evenodd" transform="translate(1643.1,368.9) matrix(1.00,-0.620,0,1.00,0,0)" fill="#d84848" fill-opacity="0.52"/>
<path d="M-40,10 L-41,0 L-32,-6 L-16,-16 L12,-17 L26,-6 L40,-4 L41,10 Z M-17,9 a5.5,5.5 0 1,0 -11,0 a5.5,5.5 0 1,0 11,0 Z M29,9 a5.5,5.5 0 1,0 -11,0 a5.5,5.5 0 1,0 11,0 Z" fill-rule="evenodd" transform="translate(1661.3,387.4) matrix(1.00,-0.620,0,1.00,0,0)" fill="#d84848" fill-opacity="0.52"/>
<path d="M-40,10 L-41,0 L-32,-6 L-16,-16 L12,-17 L26,-6 L40,-4 L41,10 Z M-17,9 a5.5,5.5 0 1,0 -11,0 a5.5,5.5 0 1,0 11,0 Z M29,9 a5.5,5.5 0 1,0 -11,0 a5.5,5.5 0 1,0 11,0 Z" fill-rule="evenodd" transform="translate(1679.4,405.8) matrix(1.00,-0.620,0,1.00,0,0)" fill="#d84848" fill-opacity="0.52"/>
<path d="M-40,10 L-41,0 L-32,-6 L-16,-16 L12,-17 L26,-6 L40,-4 L41,10 Z M-17,9 a5.5,5.5 0 1,0 -11,0 a5.5,5.5 0 1,0 11,0 Z M29,9 a5.5,5.5 0 1,0 -11,0 a5.5,5.5 0 1,0 11,0 Z" fill-rule="evenodd" transform="translate(1697.6,424.2) matrix(1.00,-0.620,0,1.00,0,0)" fill="#d84848" fill-opacity="0.52"/>
<path d="M-40,10 L-41,0 L-32,-6 L-16,-16 L12,-17 L26,-6 L40,-4 L41,10 Z M-17,9 a5.5,5.5 0 1,0 -11,0 a5.5,5.5 0 1,0 11,0 Z M29,9 a5.5,5.5 0 1,0 -11,0 a5.5,5.5 0 1,0 11,0 Z" fill-rule="evenodd" transform="translate(1715.7,442.6) matrix(1.00,-0.620,0,1.00,0,0)" fill="#d84848" fill-opacity="0.52"/>
<path d="M-40,10 L-41,0 L-32,-6 L-16,-16 L12,-17 L26,-6 L40,-4 L41,10 Z M-17,9 a5.5,5.5 0 1,0 -11,0 a5.5,5.5 0 1,0 11,0 Z M29,9 a5.5,5.5 0 1,0 -11,0 a5.5,5.5 0 1,0 11,0 Z" fill-rule="evenodd" transform="translate(1733.9,461.1) matrix(1.00,-0.620,0,1.00,0,0)" fill="#d84848" fill-opacity="0.52"/>
<path d="M-40,10 L-41,0 L-32,-6 L-16,-16 L12,-17 L26,-6 L40,-4 L41,10 Z M-17,9 a5.5,5.5 0 1,0 -11,0 a5.5,5.5 0 1,0 11,0 Z M29,9 a5.5,5.5 0 1,0 -11,0 a5.5,5.5 0 1,0 11,0 Z" fill-rule="evenodd" transform="translate(1752.1,479.5) matrix(1.00,-0.620,0,1.00,0,0)" fill="#d84848" fill-opacity="0.52"/>
<path d="M-40,10 L-41,0 L-32,-6 L-16,-16 L12,-17 L26,-6 L40,-4 L41,10 Z M-17,9 a5.5,5.5 0 1,0 -11,0 a5.5,5.5 0 1,0 11,0 Z M29,9 a5.5,5.5 0 1,0 -11,0 a5.5,5.5 0 1,0 11,0 Z" fill-rule="evenodd" transform="translate(1770.2,497.9) matrix(1.00,-0.620,0,1.00,0,0)" fill="#d84848" fill-opacity="0.52"/>
<path d="M-40,10 L-41,0 L-32,-6 L-16,-16 L12,-17 L26,-6 L40,-4 L41,10 Z M-17,9 a5.5,5.5 0 1,0 -11,0 a5.5,5.5 0 1,0 11,0 Z M29,9 a5.5,5.5 0 1,0 -11,0 a5.5,5.5 0 1,0 11,0 Z" fill-rule="evenodd" transform="translate(1788.4,516.3) matrix(1.00,-0.620,0,1.00,0,0)" fill="#d84848" fill-opacity="0.52"/>
<path d="M-40,10 L-41,0 L-32,-6 L-16,-16 L12,-17 L26,-6 L40,-4 L41,10 Z M-17,9 a5.5,5.5 0 1,0 -11,0 a5.5,5.5 0 1,0 11,0 Z M29,9 a5.5,5.5 0 1,0 -11,0 a5.5,5.5 0 1,0 11,0 Z" fill-rule="evenodd" transform="translate(1806.5,534.7) matrix(1.00,-0.620,0,1.00,0,0)" fill="#d84848" fill-opacity="0.52"/>
<path d="M-40,10 L-41,0 L-32,-6 L-16,-16 L12,-17 L26,-6 L40,-4 L41,10 Z M-17,9 a5.5,5.5 0 1,0 -11,0 a5.5,5.5 0 1,0 11,0 Z M29,9 a5.5,5.5 0 1,0 -11,0 a5.5,5.5 0 1,0 11,0 Z" fill-rule="evenodd" transform="translate(1824.7,553.2) matrix(1.00,-0.620,0,1.00,0,0)" fill="#d84848" fill-opacity="0.52"/>
<path d="M-40,10 L-41,0 L-32,-6 L-16,-16 L12,-17 L26,-6 L40,-4 L41,10 Z M-17,9 a5.5,5.5 0 1,0 -11,0 a5.5,5.5 0 1,0 11,0 Z M29,9 a5.5,5.5 0 1,0 -11,0 a5.5,5.5 0 1,0 11,0 Z" fill-rule="evenodd" transform="translate(1842.8,571.6) matrix(1.00,-0.620,0,1.00,0,0)" fill="#d84848" fill-opacity="0.52"/>
<path d="M-40,10 L-41,0 L-32,-6 L-16,-16 L12,-17 L26,-6 L40,-4 L41,10 Z M-17,9 a5.5,5.5 0 1,0 -11,0 a5.5,5.5 0 1,0 11,0 Z M29,9 a5.5,5.5 0 1,0 -11,0 a5.5,5.5 0 1,0 11,0 Z" fill-rule="evenodd" transform="translate(1861.0,590.0) matrix(1.00,-0.620,0,1.00,0,0)" fill="#d84848" fill-opacity="0.52"/>
</g>
<line x1="1688.0" y1="358.0" x2="1688.4" y2="85.0" stroke="url(#gs0)" stroke-width="3.2"/>
<path d="M1688.40 71.00L1698.37 91.01L1688.38 88.00L1678.37 90.99Z" fill="#000"/>
<line x1="1688.0" y1="358.0" x2="1443.1" y2="500.5" stroke="url(#gs1)" stroke-width="3.2"/>
<path d="M1431.00 507.50L1443.26 488.80L1445.69 498.95L1453.32 506.09Z" fill="#000"/>
<line x1="1688.0" y1="358.0" x2="1974.9" y2="661.4" stroke="url(#gs2)" stroke-width="3.2"/>
<path d="M1984.50 671.60L1963.49 663.94L1972.82 659.25L1978.03 650.20Z" fill="#000"/>
<polygon points="2557.70,338.60 2579.50,338.60 2579.50,321.76 2611.34,354.40 2579.50,387.04 2579.50,370.20 2557.70,370.20" fill="#fff" stroke="#000" stroke-width="2.80" stroke-linejoin="miter"/>
<polygon points="2814.00,338.60 2835.80,338.60 2835.80,321.76 2867.44,354.40 2835.80,387.04 2835.80,370.20 2814.00,370.20" fill="#fff" stroke="#000" stroke-width="2.80" stroke-linejoin="miter"/>
<text x="2617.30" y="217.70" font-family="Liberation Sans" font-size="67.00" textLength="170.89" lengthAdjust="spacing" fill="#000">Event</text>
<text x="2628.62" y="298.30" font-family="Liberation Sans" font-size="67.00" textLength="148.87" lengthAdjust="spacing" fill="#000">Input</text>
<line x1="2612.80" y1="448.00" x2="2796.70" y2="448.00" stroke="#000" stroke-width="6.50" stroke-linecap="round"/>
<line x1="2724.60" y1="394.00" x2="2724.60" y2="448.00" stroke="#000" stroke-width="6.50" stroke-linecap="round"/>
<text transform="translate(2542.55,541.17) scale(1.0255,1)" font-family="Liberation Serif" font-size="74.64" font-style="italic" fill="#000">e</text>
<text transform="translate(2576.50,552.80) scale(1.0600,1)" font-family="Liberation Serif" font-size="46.26" font-style="italic" fill="#000">k</text>
<circle cx="2619.5" cy="511.4" r="4.6" fill="#000"/><circle cx="2619.5" cy="536" r="4.6" fill="#000"/>
<text transform="translate(2633.13,542.12) scale(0.8714,1)" font-family="Liberation Serif" font-size="88.08" fill="#000">{</text>
<text transform="translate(2673.56,541.90) scale(1.0600,1)" font-family="Liberation Serif" font-size="78.22" font-style="italic" fill="#000">x</text>
<text transform="translate(2711.25,552.80) scale(1.0600,1)" font-family="Liberation Serif" font-size="46.26" font-style="italic" fill="#000">k</text>
<text transform="translate(2743.19,541.07) scale(0.7558,1)" font-family="Liberation Serif" font-size="97.73" fill="#000">,</text>
<text transform="translate(2768.04,541.05) scale(1.0600,1)" font-family="Liberation Serif" font-size="87.30" font-style="italic" fill="#000">t</text>
<text transform="translate(2799.10,552.80) scale(1.0600,1)" font-family="Liberation Serif" font-size="46.26" font-style="italic" fill="#000">k</text>
<text transform="translate(2824.08,542.12) scale(0.8524,1)" font-family="Liberation Serif" font-size="88.08" fill="#000">}</text>
<rect x="2883.25" y="173.25" width="567" height="480.5" rx="15" fill="#fff" stroke="#000" stroke-width="5.5"/>
<rect x="3187.4" y="179.5" width="209.6" height="466.5" rx="8" fill="#f0f0f0"/>
<text x="3249.24" y="215.70" font-family="Liberation Sans" font-size="37.50" textLength="85.84" lengthAdjust="spacing" fill="#000">WTA</text>
<circle cx="2953.4" cy="278.0" r="47.8" fill="#f4b183"/>
<circle cx="3293.4" cy="278.0" r="47.6" fill="#cdeafa"/>
<line x1="3001.00" y1="278.00" x2="3232.00" y2="278.00" stroke="#000" stroke-width="3.60" />
<path d="M3246.00 278.00L3224.00 288.50L3227.96 278.00L3224.00 267.50Z" fill="#000"/>
<line x1="3338.40" y1="278.00" x2="3428.00" y2="278.00" stroke="#000" stroke-width="3.60" />
<path d="M3442.40 278.00L3420.40 288.50L3424.36 278.00L3420.40 267.50Z" fill="#000"/>
<circle cx="2953.4" cy="389.5" r="47.8" fill="#f4b183"/>
<circle cx="3293.4" cy="389.5" r="47.6" fill="#cdeafa"/>
<line x1="3001.00" y1="389.50" x2="3232.00" y2="389.50" stroke="#000" stroke-width="3.60" />
<path d="M3246.00 389.50L3224.00 400.00L3227.96 389.50L3224.00 379.00Z" fill="#000"/>
<line x1="3338.40" y1="389.50" x2="3428.00" y2="389.50" stroke="#000" stroke-width="3.60" />
<path d="M3442.40 389.50L3420.40 400.00L3424.36 389.50L3420.40 379.00Z" fill="#000"/>
<circle cx="2953.4" cy="576.2" r="47.8" fill="#f4b183"/>
<circle cx="3293.4" cy="576.2" r="47.6" fill="#cdeafa"/>
<line x1="3001.00" y1="576.20" x2="3232.00" y2="576.20" stroke="#000" stroke-width="3.60" />
<path d="M3246.00 576.20L3224.00 586.70L3227.96 576.20L3224.00 565.70Z" fill="#000"/>
<line x1="3338.40" y1="576.20" x2="3428.00" y2="576.20" stroke="#000" stroke-width="3.60" />
<path d="M3442.40 576.20L3420.40 586.70L3424.36 576.20L3420.40 565.70Z" fill="#000"/>
<rect x="2951.8" y="474.0" width="5.3" height="5.3" fill="#000"/>
<rect x="2951.8" y="486.8" width="5.3" height="5.3" fill="#000"/>
<rect x="2951.8" y="498.4" width="5.3" height="5.3" fill="#000"/>
<rect x="3292.3" y="474.0" width="5.3" height="5.3" fill="#000"/>
<rect x="3292.3" y="486.8" width="5.3" height="5.3" fill="#000"/>
<rect x="3292.3" y="498.4" width="5.3" height="5.3" fill="#000"/>
<rect x="3105.8" y="502.7" width="5.3" height="5.3" fill="#000"/>
<rect x="3118.8" y="502.7" width="5.3" height="5.3" fill="#000"/>
<rect x="3131.8" y="502.7" width="5.3" height="5.3" fill="#000"/>
<text transform="translate(2928.48,286.50) scale(0.9163,1)" font-family="Liberation Serif" font-size="76.91" font-style="italic" fill="#000">y</text>
<text transform="translate(2957.95,297.80) scale(1.0600,1)" font-family="Liberation Serif" font-size="46.66" fill="#000">1</text>
<text transform="translate(2928.48,398.00) scale(0.9163,1)" font-family="Liberation Serif" font-size="76.91" font-style="italic" fill="#000">y</text>
<text transform="translate(2960.95,409.30) scale(1.0600,1)" font-family="Liberation Serif" font-size="46.52" fill="#000">2</text>
<text transform="translate(2922.52,586.48) scale(0.8808,1)" font-family="Liberation Serif" font-size="70.98" font-style="italic" fill="#000">y</text>
<text transform="translate(2954.41,596.90) scale(1.0600,1)" font-family="Liberation Serif" font-size="44.75" font-style="italic" fill="#000">N</text>
<text transform="translate(2987.75,602.50) scale(1.0600,1)" font-family="Liberation Serif" font-size="28.10" font-style="italic" fill="#000">l</text>
<text transform="translate(3262.65,302.00) scale(1.0600,1)" font-family="Liberation Serif" font-size="88.46" font-style="italic" fill="#000">z</text>
<text transform="translate(3295.16,312.20) scale(1.0600,1)" font-family="Liberation Serif" font-size="53.93" fill="#000">1</text>
<text transform="translate(3262.19,400.80) scale(1.0600,1)" font-family="Liberation Serif" font-size="86.93" font-style="italic" fill="#000">z</text>
<text transform="translate(3298.86,413.50) scale(1.0600,1)" font-family="Liberation Serif" font-size="49.39" fill="#000">2</text>
<text transform="translate(3255.56,587.80) scale(1.0600,1)" font-family="Liberation Serif" font-size="79.09" font-style="italic" fill="#000">z</text>
<text transform="translate(3289.68,595.00) scale(1.0600,1)" font-family="Liberation Serif" font-size="44.29" font-style="italic" fill="#000">N</text>
<text transform="translate(3322.50,602.00) scale(1.0600,1)" font-family="Liberation Serif" font-size="25.94" font-style="italic" fill="#000">l</text>
<line x1="3117.20" y1="843.00" x2="3117.20" y2="600.00" stroke="#000" stroke-width="5.20" />
<path d="M3117.20 584.40L3128.70 607.40L3117.20 607.40L3105.70 607.40Z" fill="#000"/>
<polygon points="3474.60,336.40 3545.50,336.40 3545.50,321.76 3576.74,352.30 3545.50,382.84 3545.50,368.20 3474.60,368.20" fill="#fff" stroke="#000" stroke-width="2.80" stroke-linejoin="miter"/>
<text x="3630.86" y="217.80" font-family="Liberation Sans" font-size="67.00" textLength="166.32" lengthAdjust="spacing" fill="#000">Spike</text>
<text x="3613.83" y="298.00" font-family="Liberation Sans" font-size="67.00" textLength="199.36" lengthAdjust="spacing" fill="#000">Output</text>
<line x1="3625.50" y1="391.50" x2="3807.80" y2="391.50" stroke="#000" stroke-width="6.30" stroke-linecap="round"/>
<line x1="3712.30" y1="344.00" x2="3712.30" y2="388.00" stroke="#92d050" stroke-width="7.50" stroke-linecap="round"/>
<line x1="3631.80" y1="476.40" x2="3815.40" y2="476.40" stroke="#000" stroke-width="6.30" stroke-linecap="round"/>
<line x1="3775.10" y1="427.00" x2="3775.10" y2="473.00" stroke="#ff0000" stroke-width="7.50" stroke-linecap="round"/>
<line x1="3628.60" y1="553.10" x2="3812.90" y2="553.10" stroke="#000" stroke-width="6.30" stroke-linecap="round"/>
<line x1="3673.90" y1="504.50" x2="3673.90" y2="550.00" stroke="#00b0f0" stroke-width="7.50" stroke-linecap="round"/>
<text transform="translate(3468.37,622.70) scale(1.0600,1)" font-family="Liberation Serif" font-size="56.05" font-style="italic" fill="#000" stroke="#000" stroke-width="0.60">P</text>
<text transform="translate(3511.12,620.21) scale(1.0600,1)" font-family="Liberation Serif" font-size="56.80" fill="#000">(</text>
<text transform="translate(3532.98,622.70) scale(1.0600,1)" font-family="Liberation Serif" font-size="51.85" font-style="italic" fill="#000" stroke="#000" stroke-width="0.60">z</text>
<text transform="translate(3561.26,628.94) scale(1.0600,1)" font-family="Liberation Serif" font-size="27.54" font-style="italic" fill="#000" stroke="#000" stroke-width="0.40">j</text>
<text x="3593.79" y="623.00" font-family="Liberation Serif" font-size="55.67" textLength="76.94" lengthAdjust="spacingAndGlyphs" fill="#000">fire</text>
<text x="3685.28" y="623.00" font-family="Liberation Serif" font-size="56.50" textLength="120.08" lengthAdjust="spacingAndGlyphs" fill="#000">spike</text>
<text transform="translate(3804.63,620.21) scale(1.0600,1)" font-family="Liberation Serif" font-size="56.80" fill="#000">)</text>
<rect x="3835" y="598" width="39.7" height="3" fill="#000"/><rect x="3835" y="611" width="39.7" height="3" fill="#000"/>
<text transform="translate(3889.12,622.70) scale(1.0600,1)" font-family="Liberation Serif" font-size="56.05" font-style="italic" fill="#000" stroke="#000" stroke-width="0.60">P</text>
<text transform="translate(3920.39,629.80) scale(1.0600,1)" font-family="Liberation Serif" font-size="27.53" font-style="italic" fill="#000" stroke="#000" stroke-width="0.40">k</text>
<text transform="translate(3938.99,629.30) scale(1.0600,1)" font-family="Liberation Serif" font-size="25.83" font-style="italic" fill="#000" stroke="#000" stroke-width="0.40">j</text>
<rect x="2089.5" y="750.5" width="684.5" height="401.9" rx="14" fill="none" stroke="#000" stroke-width="5.2" stroke-dasharray="37.7 12.2" stroke-dashoffset="-35"/>
<line x1="2164.70" y1="1059.50" x2="2164.70" y2="790.00" stroke="#000" stroke-width="6.80" />
<path d="M2164.70 768.90L2178.95 796.90L2164.70 796.90L2150.45 796.90Z" fill="#000"/>
<line x1="2161.30" y1="1055.90" x2="2745.00" y2="1055.90" stroke="#000" stroke-width="7.40" />
<path d="M2765.50 1055.90L2738.50 1068.40L2738.50 1055.90L2738.50 1043.40Z" fill="#000"/>
<text transform="translate(2101.37,836.48) scale(1.0136,1)" font-family="Liberation Serif" font-size="78.42" font-style="italic" fill="#000" stroke="#000" stroke-width="0.50">θ</text>
<polyline points="2164.00,1032.90 2313.40,1032.90 2313.40,1032.90 2313.44,1020.29 2313.54,1007.71 2313.72,995.20 2313.97,982.79 2314.29,970.52 2314.67,958.43 2315.13,946.53 2315.65,934.88 2316.23,923.49 2316.88,912.40 2317.59,901.64 2318.37,891.24 2319.19,881.23 2320.08,871.64 2321.02,862.49 2322.00,853.80 2323.04,845.61 2324.12,837.93 2325.24,830.78 2326.40,824.19 2327.60,818.17 2328.82,812.74 2330.08,807.91 2331.37,803.70 2332.67,800.11 2333.99,797.17 2335.33,794.87 2336.68,793.22 2338.04,792.23 2339.40,791.90 2339.71,791.91 2340.26,791.98 2340.99,792.16 2341.84,792.49 2342.82,793.02 2343.89,793.79 2345.06,794.82 2346.31,796.13 2347.65,797.71 2349.06,799.58 2350.55,801.70 2352.10,804.07 2353.72,806.67 2355.40,809.46 2357.15,812.43 2358.95,815.55 2360.81,818.81 2362.73,822.18 2364.70,825.66 2366.73,829.22 2368.80,832.85 2370.93,836.54 2373.10,840.27 2375.32,844.05 2377.59,847.85 2379.90,851.67 2382.26,855.51 2384.67,859.35 2387.11,863.19 2389.60,867.02 2392.13,870.84 2394.70,874.65 2397.32,878.43 2399.97,882.19 2402.66,885.92 2405.39,889.62 2408.16,893.28 2410.97,896.90 2413.81,900.48 2416.69,904.02 2419.61,907.52 2422.56,910.96 2425.55,914.36 2428.57,917.71 2431.63,921.00 2434.72,924.24 2437.84,927.43 2441.00,930.57 2444.19,933.64 2447.42,936.66 2450.67,939.63 2453.96,942.53 2457.28,945.38 2460.63,948.17 2464.02,950.91 2467.43,953.58 2470.88,956.20 2474.35,958.76 2477.86,961.26 2481.39,963.70 2484.95,966.09 2488.55,968.42 2492.17,970.70 2495.82,972.92 2499.50,975.08 2503.21,977.19 2506.95,979.25 2510.72,981.25 2514.51,983.20 2518.33,985.10 2522.18,986.95 2526.05,988.75 2529.95,990.49 2533.88,992.20 2537.84,993.85 2541.82,995.46 2545.83,997.02 2549.86,998.53 2553.92,1000.01 2558.01,1001.44 2562.12,1002.82 2566.26,1004.17 2570.42,1005.48 2574.61,1006.74 2578.82,1007.97 2583.06,1009.16 2587.32,1010.32 2591.61,1011.43 2595.92,1012.52 2600.25,1013.57 2604.61,1014.58 2609.00,1015.57 2613.40,1016.52 2617.84,1017.45 2622.29,1018.34 2626.77,1019.21 2631.27,1020.04 2635.80,1020.85 2640.34,1021.64 2644.91,1022.39 2649.51,1023.13 2654.13,1023.84 2658.77,1024.52 2663.43,1025.19 2668.11,1025.83 2672.82,1026.45 2677.55,1027.05 2682.30,1027.63 2687.07,1028.20 2691.87,1028.74 2696.69,1029.26 2701.53,1029.77 2706.39,1030.27 2711.27,1030.74 2716.17,1031.20 2721.10,1031.65 2726.04,1032.08 2731.01,1032.50 2736.00,1032.90" fill="none" stroke="#0070c0" stroke-width="3.6" stroke-dasharray="26 7" stroke-linejoin="miter"/>
<text x="2286.68" y="1138.00" font-family="Liberation Sans" font-size="51.00" textLength="229.78" lengthAdjust="spacing" fill="#000">STDP rule</text>
<text transform="translate(2571.93,1117.10) scale(1.0600,1)" font-family="Liberation Serif" font-size="85.97" font-style="italic" fill="#000">t</text>
<text transform="translate(2602.75,1126.53) scale(1.0600,1)" font-family="Liberation Serif" font-size="42.16" font-style="italic" fill="#000" stroke="#000" stroke-width="0.75">z</text>
<rect x="2642.1" y="1092" width="54.4" height="4" fill="#000"/>
<text transform="translate(2711.04,1117.10) scale(1.0491,1)" font-family="Liberation Serif" font-size="85.97" font-style="italic" fill="#000">t</text>
<text transform="translate(2739.71,1126.53) scale(1.0600,1)" font-family="Liberation Serif" font-size="41.07" font-style="italic" fill="#000" stroke="#000" stroke-width="0.75">e</text>
<polygon points="2813.50,920.60 2835.50,920.60 2835.50,905.06 2867.14,936.00 2835.50,966.94 2835.50,951.40 2813.50,951.40" fill="#fff" stroke="#000" stroke-width="2.80" stroke-linejoin="miter"/>
<rect x="2878.5" y="845.4" width="694.8" height="175.8" rx="15" fill="#fff" stroke="#000" stroke-width="5"/>
<text transform="translate(2945.81,911.98) scale(1.0236,1)" font-family="Liberation Serif" font-size="63.89" font-style="italic" fill="#000" stroke="#000" stroke-width="0.60">θ</text>
<line x1="2990.30" y1="893.50" x2="3045.00" y2="893.50" stroke="#000" stroke-width="3.20" />
<path d="M3031 876 Q3036 890 3048.3 893.5 Q3036 897 3031 910" fill="none" stroke="#000" stroke-width="3.2"/>
<text transform="translate(3066.13,912.60) scale(1.0600,1)" font-family="Liberation Serif" font-size="66.43" font-style="italic" fill="#000" stroke="#000" stroke-width="0.60">P</text>
<text transform="translate(3116.50,909.34) scale(1.0600,1)" font-family="Liberation Serif" font-size="66.50" fill="#000">(</text>
<text transform="translate(3142.29,912.60) scale(1.0600,1)" font-family="Liberation Serif" font-size="61.88" font-style="italic" fill="#000" stroke="#000" stroke-width="0.60">z</text>
<text transform="translate(3174.66,920.49) scale(1.0600,1)" font-family="Liberation Serif" font-size="36.00" font-style="italic" fill="#000" stroke="#000" stroke-width="0.50">j</text>
<rect x="3204.1" y="885.3" width="46.8" height="3.8" rx="1.5" fill="#000"/><rect x="3204.1" y="898.1" width="46.8" height="3.8" rx="1.5" fill="#000"/>
<text transform="translate(3261.53,911.85) scale(0.9677,1)" font-family="Liberation Serif" font-size="66.04" fill="#000" stroke="#000" stroke-width="0.50">1</text>
<rect x="3311.7" y="864.1" width="4.5" height="63.4" rx="2" fill="#000"/>
<text transform="translate(3324.18,912.50) scale(1.0437,1)" font-family="Liberation Serif" font-size="59.85" font-style="italic" fill="#000" stroke="#000" stroke-width="0.60">e</text>
<text transform="translate(3354.00,922.15) scale(1.0600,1)" font-family="Liberation Serif" font-size="37.18" font-style="italic" fill="#000" stroke="#000" stroke-width="0.50">k</text>
<rect x="3389.8" y="885.3" width="46.8" height="3.8" rx="1.5" fill="#000"/><rect x="3389.8" y="898.1" width="46.8" height="3.8" rx="1.5" fill="#000"/>
<text transform="translate(3446.88,911.85) scale(1.0279,1)" font-family="Liberation Serif" font-size="66.04" fill="#000" stroke="#000" stroke-width="0.50">1</text>
<text transform="translate(3477.31,909.63) scale(1.0600,1)" font-family="Liberation Serif" font-size="67.49" fill="#000">)</text>
<text x="2889.77" y="995.10" font-family="Liberation Sans" font-size="61.30" textLength="198.05" lengthAdjust="spacing" fill="#000">Update</text>
<text transform="translate(3103.35,996.00) scale(1.0317,1)" font-family="Liberation Sans" font-size="60.03" font-style="italic" fill="#000">θ</text>
<text x="3152.89" y="995.10" font-family="Liberation Sans" font-size="61.30" textLength="408.13" lengthAdjust="spacing" fill="#000">with STDP rule</text>
<text x="335.19" y="1240.00" font-family="Liberation Sans" font-size="64.50" font-weight="bold" textLength="1010.96" lengthAdjust="spacing" fill="#000">(a) EM-based clustering method</text>
<text x="2279.59" y="1240.70" font-family="Liberation Sans" font-size="64.50" font-weight="bold" textLength="1246.21" lengthAdjust="spacing" fill="#000">(b) Spike-based Bayesian computation</text>
</svg></body></html>
